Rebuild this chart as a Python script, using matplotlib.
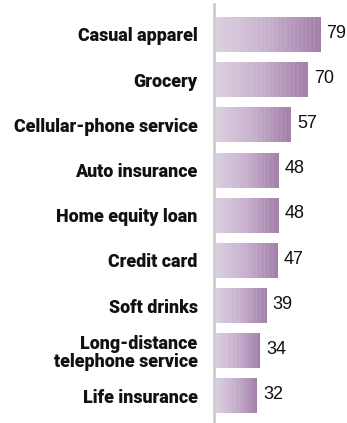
import matplotlib
matplotlib.use("Agg")
import matplotlib.pyplot as plt
import numpy as np
from matplotlib.colors import LinearSegmentedColormap

categories = ["Casual apparel", "Grocery", "Cellular-phone service", "Auto insurance",
              "Home equity loan", "Credit card", "Soft drinks",
              "Long-distance\ntelephone service", "Life insurance"]
values = [79, 70, 57, 48, 48, 47, 39, 34, 32]

W, H = 347, 423
fig = plt.figure(figsize=(W / 100, H / 100), dpi=100)
ax_left = 213.5 / W
ax_right = 346 / W
ax = fig.add_axes([ax_left, 0.0, ax_right - ax_left, (H - 4) / H])

axis_px = 346 - 213.5
px_per_unit = 1.342
ax.set_xlim(0, axis_px / px_per_unit)
ax.set_ylim(len(values) - 1 + 0.6, -0.675)

cmap = LinearSegmentedColormap.from_list("g", ["#ddd1e2", "#c7b1cd", "#a27ea9"])
y = np.arange(len(values))
bars = ax.barh(y, values, height=0.775, color="none", edgecolor="none", left=0)
grad = np.linspace(0, 1, 256).reshape(1, -1)
for b in bars:
    x0, y0 = b.get_x(), b.get_y()
    w, h = b.get_width(), b.get_height()
    im = ax.imshow(grad, cmap=cmap, aspect="auto", extent=[x0, x0 + w, y0 + h, y0],
                   interpolation="bilinear", zorder=2)
    im.set_clip_path(b)
plt.rcParams['hatch.linewidth'] = 0.5
ax.barh(y, values, height=0.775, color="none", edgecolor=(1, 1, 1, 0.12),
        hatch="||||", linewidth=0, zorder=3)

fam = ["Roboto", "DejaVu Sans"]
for yi, v in zip(y, values):
    ax.text(v + 7 / px_per_unit, yi - 0.03, str(v), va="center", ha="left",
            fontsize=13, family=["Liberation Sans", "DejaVu Sans"], color="#111111")

ax.set_yticks(y)
ax.set_yticklabels(categories, fontsize=12.9, fontweight=900, family=fam,
                   linespacing=1.0, color="#111111")
ax.tick_params(axis="y", length=0, pad=11.5)
ax.set_xticks([])
for s in ["top", "right", "bottom"]:
    ax.spines[s].set_visible(False)
ax.spines["left"].set_color("#cccccc")
ax.spines["left"].set_linewidth(2.0)
ax.set_facecolor("none")

fig.savefig("out.png", dpi=100)
